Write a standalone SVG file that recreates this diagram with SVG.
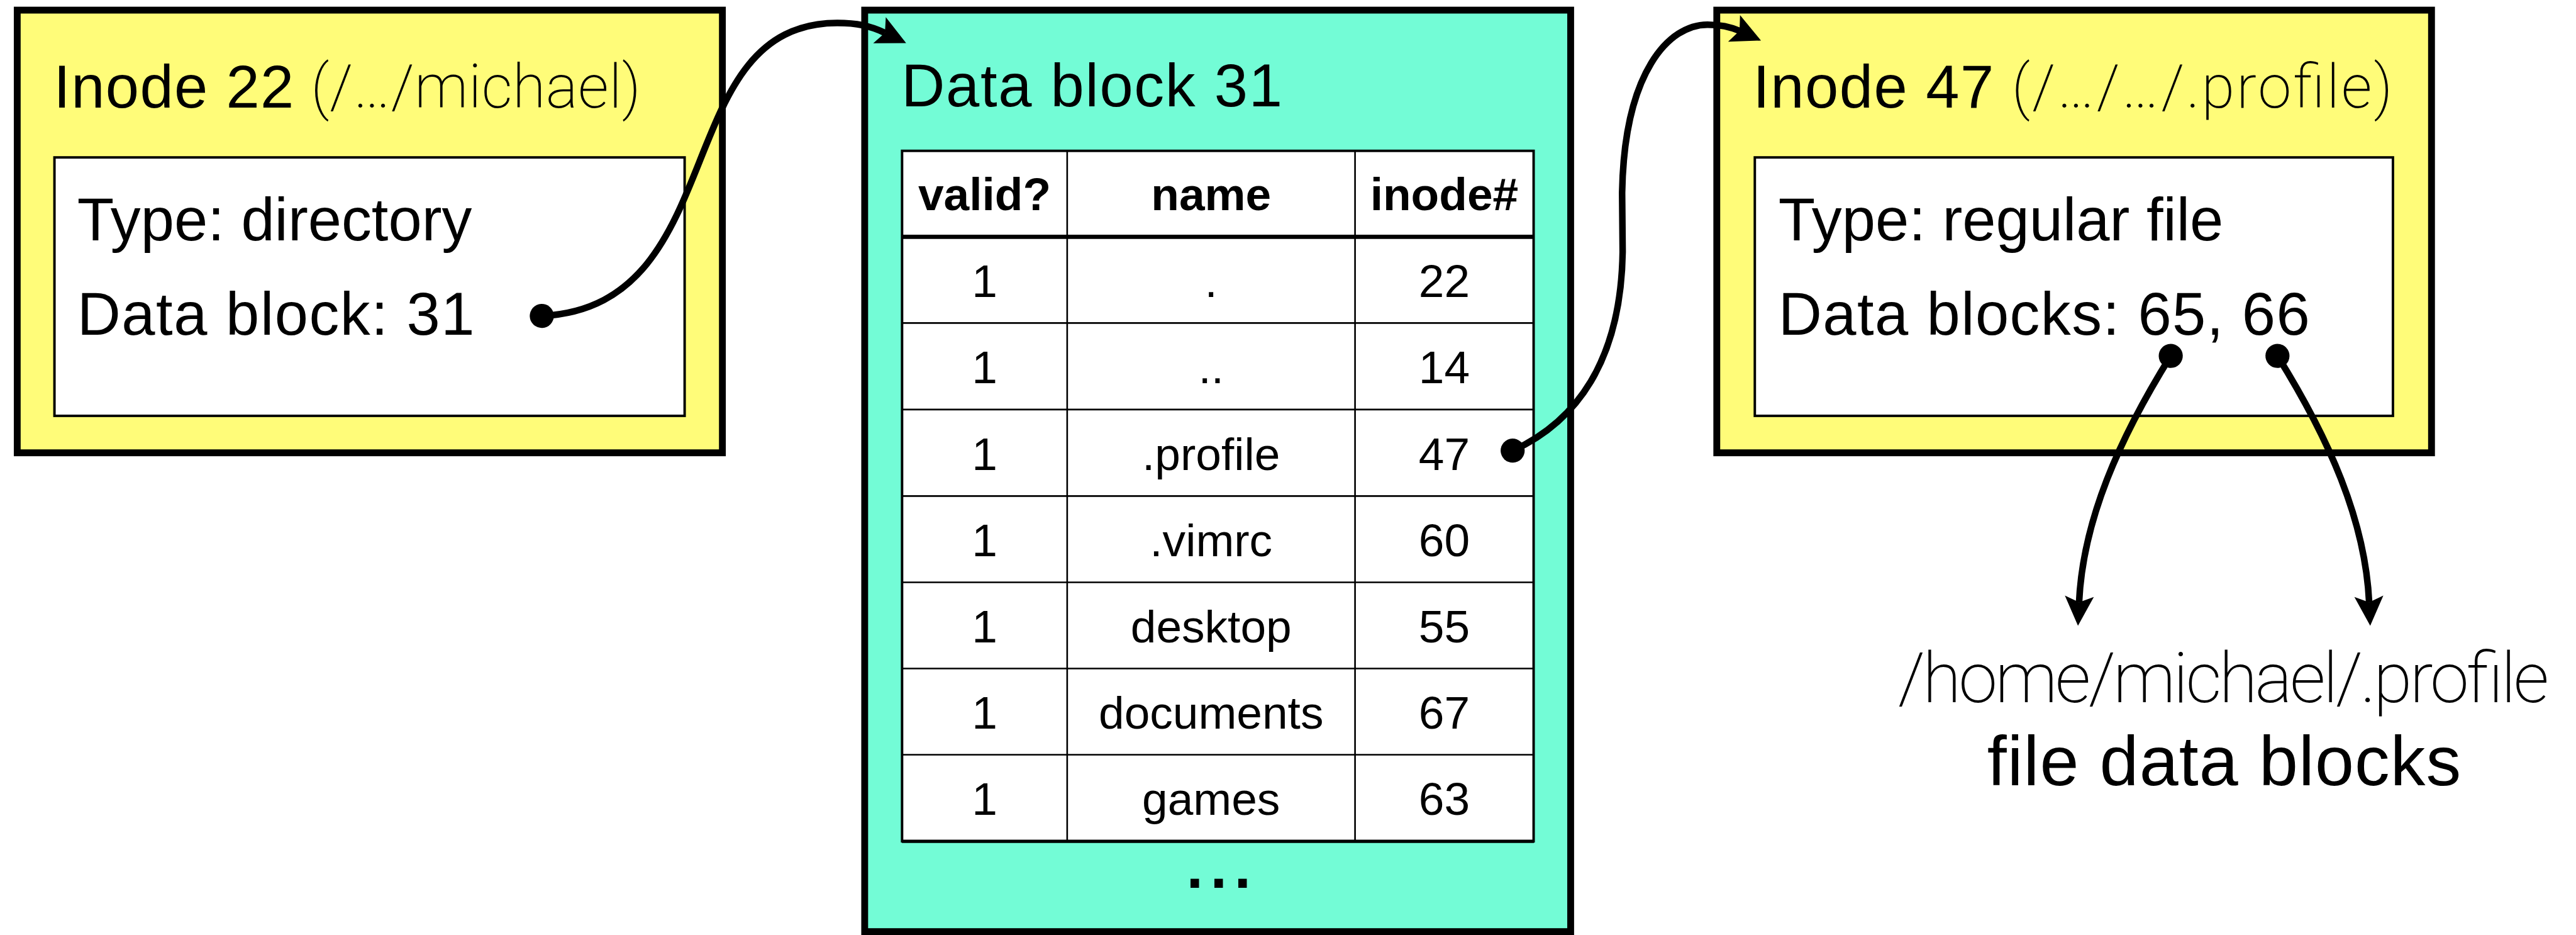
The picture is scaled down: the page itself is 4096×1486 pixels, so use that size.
<svg xmlns="http://www.w3.org/2000/svg" width="4096" height="1486" viewBox="0 0 4096 1486">
<style>
.box{stroke:#000;stroke-width:12.5}
.yellow{fill:#FFFC79}
.teal{fill:#73FCD6}
.inner{fill:#fff;stroke:#000;stroke-width:4.5}
.t{font-family:"Liberation Sans",Arial,Helvetica,sans-serif;fill:#000}
.title{font-size:110px}
.light{font-family:Roboto,"Open Sans",Lato,sans-serif;font-weight:200}
.cell{font-size:84px;text-anchor:middle}
.hdr{font-weight:bold}
.grid{stroke:#000;fill:none}
.conn{fill:none;stroke:#000;stroke-width:12}
.big{font-size:128px;text-anchor:middle}
</style>
<defs>
<marker id="arrow" markerUnits="userSpaceOnUse" orient="auto" refX="0" refY="0" markerWidth="120" markerHeight="120" overflow="visible">
<path d="M43,0 L-11,-26.5 L0,0 L-11,26.5 Z" fill="#000"/>
</marker>
<marker id="dot" markerUnits="userSpaceOnUse" orient="auto" refX="0" refY="0" markerWidth="60" markerHeight="60" overflow="visible">
<circle cx="0" cy="0" r="22" fill="#000"/>
</marker>
</defs>
<g transform="scale(0.870193)">
<rect x="0" y="0" width="4707" height="1708" fill="#fff"/>
<g id="inode22">
<rect x="31.5" y="18.5" width="1288.5" height="808.5" class="box yellow"/>
<text y="196" class="t title"><tspan x="98" textLength="439" lengthAdjust="spacing">Inode 22</tspan> <tspan x="568" class="light" textLength="603" lengthAdjust="spacing">(/…/michael)</tspan></text>
<rect x="99.5" y="287.5" width="1151.5" height="472" class="inner"/>
<text x="141" y="439" class="t title">Type: directory</text>
<text x="141" y="611" class="t title" textLength="726" lengthAdjust="spacing">Data block: 31</text>
</g>
<g id="datablock31">
<rect x="1580" y="18.5" width="1290" height="1683" class="box teal"/>
<text x="1647" y="194" class="t title" textLength="696" lengthAdjust="spacing">Data block 31</text>
<rect x="1648.3" y="275.5" width="1154" height="1261" fill="#fff" stroke="#000" stroke-width="4.5"/>
<path class="grid" stroke-width="8" d="M1648,432.5H2803"/>
<path class="grid" stroke-width="3" d="M1648,590H2803M1648,748H2803M1648,906H2803M1648,1063.5H2803M1648,1221H2803M1648,1378.5H2803M1950,275V1536M2476,275V1536"/>
<path class="grid" stroke-width="6" d="M1648,1536.5H2803"/>
<g class="t cell hdr">
<text x="1799" y="384">valid?</text>
<text x="2213" y="384">name</text>
<text x="2639" y="384">inode#</text>
</g>
<g class="t cell">
<text x="1799" y="542">1</text><text x="2213" y="542">.</text><text x="2639" y="542">22</text>
<text x="1799" y="700">1</text><text x="2213" y="700">..</text><text x="2639" y="700">14</text>
<text x="1799" y="858">1</text><text x="2213" y="858">.profile</text><text x="2639" y="858">47</text>
<text x="1799" y="1016">1</text><text x="2213" y="1016">.vimrc</text><text x="2639" y="1016">60</text>
<text x="1799" y="1173">1</text><text x="2213" y="1173">desktop</text><text x="2639" y="1173">55</text>
<text x="1799" y="1331">1</text><text x="2213" y="1331">documents</text><text x="2639" y="1331">67</text>
<text x="1799" y="1488">1</text><text x="2213" y="1488">games</text><text x="2639" y="1488">63</text>
</g>
<text x="2168" y="1621" class="t hdr" font-size="110" letter-spacing="13">...</text>
</g>
<g id="inode47">
<rect x="3137" y="18.5" width="1306" height="808.5" class="box yellow"/>
<text y="196" class="t title"><tspan x="3203" textLength="440" lengthAdjust="spacing">Inode 47</tspan> <tspan x="3676" class="light" textLength="696" lengthAdjust="spacing">(/…/…/.profile)</tspan></text>
<rect x="3206.5" y="287.5" width="1166" height="472" class="inner"/>
<text x="3249.5" y="439" class="t title">Type: regular file</text>
<text x="3249.5" y="611" class="t title" textLength="971" lengthAdjust="spacing">Data blocks: 65, 66</text>
</g>
<g id="file-data-blocks">
<text x="4063" y="1282" class="t big light" textLength="1190" lengthAdjust="spacing">/home/michael/.profile</text>
<text x="4064" y="1434" class="t big" textLength="866" lengthAdjust="spacing">file data blocks</text>
</g>
<g id="connectors" class="conn" marker-start="url(#dot)" marker-end="url(#arrow)">
<path d="M990,577 C1340,560 1220,42 1530,42 C1565,42 1590,47 1617,60"/>
<path d="M2764,823 C2880,770 2962,660 2965,460 L2964,352 C2968,130 3050,45 3120,45 C3140,45 3160,48 3178.6,56.4"/>
<path d="M3966.5,650 C3873,800 3806,950 3799,1100"/>
<path d="M4161.5,650 C4255,800 4322,950 4329,1100"/>
</g>
</g>
</svg>
